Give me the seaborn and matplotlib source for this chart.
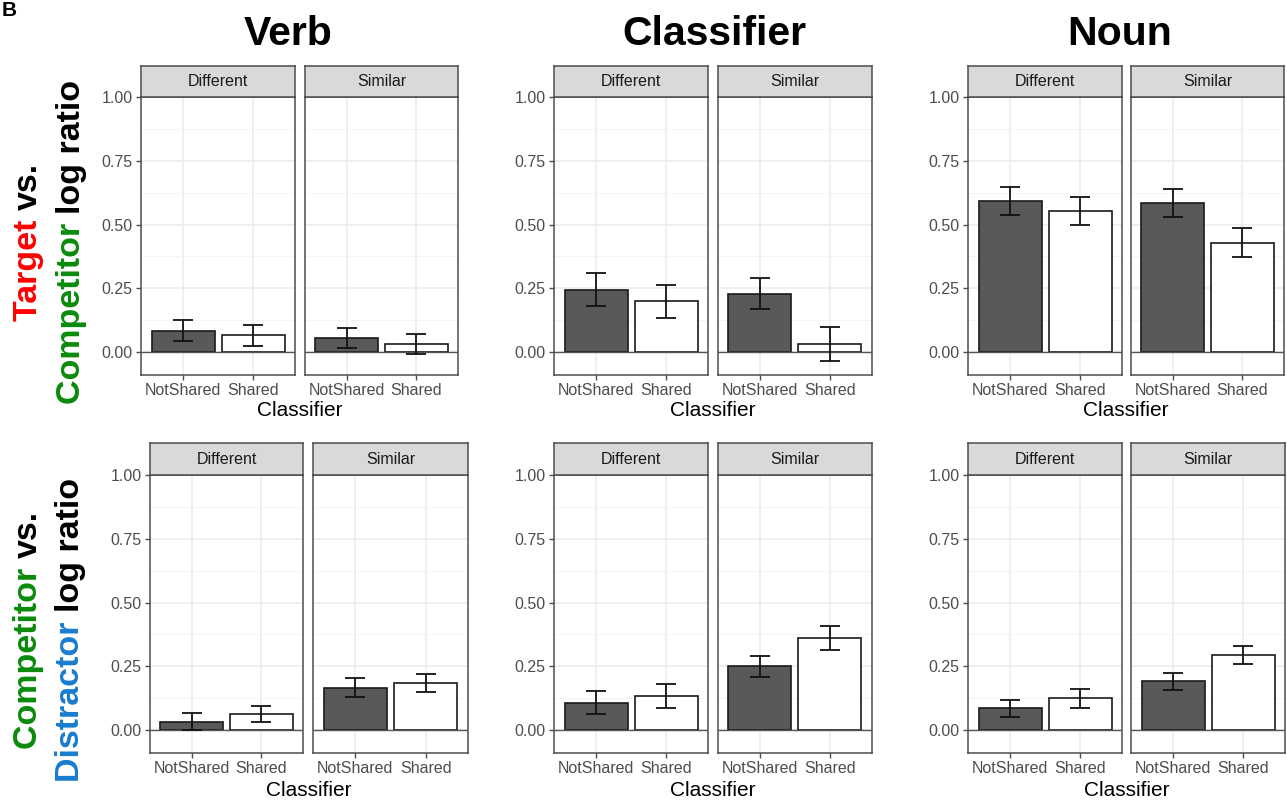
import matplotlib
matplotlib.use("Agg")
import numpy as np
import pandas as pd
import matplotlib.pyplot as plt
import seaborn as sns

# ---- data ----
regions = ["Verb", "Classifier", "Noun"]
similarity = ["Different", "Similar"]
classifier_levels = ["NotShared", "Shared"]

# Target vs. Competitor log ratio, order: region > similarity > classifier
tc_mean = [0.083, 0.066, 0.055, 0.032,
           0.245, 0.199, 0.228, 0.031,
           0.592, 0.554, 0.585, 0.428]
tc_se = [0.041, 0.041, 0.039, 0.038,
         0.064, 0.064, 0.061, 0.066,
         0.056, 0.054, 0.056, 0.057]

# Competitor vs. Distractor log ratio
cd_mean = [0.033, 0.064, 0.166, 0.184,
           0.107, 0.134, 0.250, 0.360,
           0.085, 0.124, 0.191, 0.293]
cd_se = [0.033, 0.031, 0.037, 0.034,
         0.045, 0.046, 0.042, 0.046,
         0.034, 0.036, 0.034, 0.036]

measures = ["TC", "CD"]

rows = []
for m, means, ses in zip(measures, [tc_mean, cd_mean], [tc_se, cd_se]):
    i = 0
    for r in regions:
        for s in similarity:
            for c in classifier_levels:
                rows.append({"measure": m, "region": r, "similarity": s,
                             "classifier": c, "mean": means[i], "se": ses[i]})
                i += 1
df = pd.DataFrame(rows)

# ---- style ----
sns.set_style("white")
plt.rcParams["font.family"] = ["Liberation Sans", "DejaVu Sans"]
plt.rcParams["text.color"] = "black"

W, H = 1287, 802
fig = plt.figure(figsize=(W / 100, H / 100), dpi=100)


def add_px_axes(x0, y0, x1, y1):
    return fig.add_axes([x0 / W, 1 - y1 / H, (x1 - x0) / W, (y1 - y0) / H])


# panel layout in pixels
panel_x = {
    ("TC", "Verb"): [(141, 295), (305, 458)],
    ("TC", "Classifier"): [(554, 708), (718, 872)],
    ("TC", "Noun"): [(968, 1122), (1131, 1284)],
    ("CD", "Verb"): [(150, 303), (313, 468)],
    ("CD", "Classifier"): [(554, 708), (718, 872)],
    ("CD", "Noun"): [(968, 1122), (1131, 1285)],
}
row_y = {"TC": (66, 97, 375), "CD": (443, 475, 753)}
xlabel_y = {"TC": 411, "CD": 790}

border = "#4d4d4d"
pal = {"NotShared": "#595959", "Shared": "white"}

for m in measures:
    strip_top, panel_top, panel_bot = row_y[m]
    for r in regions:
        for k, s in enumerate(similarity):
            x0, x1 = panel_x[(m, r)][k]
            ax = add_px_axes(x0, panel_top, x1, panel_bot)
            sub = df[(df.measure == m) & (df.region == r) & (df.similarity == s)]
            sns.barplot(data=sub, x="classifier", y="mean", order=classifier_levels,
                        hue="classifier", hue_order=classifier_levels, palette=pal,
                        edgecolor="#1a1a1a", linewidth=1.2, width=0.9,
                        errorbar=None, legend=False, ax=ax, zorder=2)
            ax.errorbar(x=np.arange(len(sub)), y=sub["mean"], yerr=sub["se"],
                        fmt="none", ecolor="#111111", elinewidth=1.3,
                        capsize=7, capthick=1.3, zorder=4)
            ax.axhline(0, color="#555555", lw=1.0, zorder=3)

            ax.set_xlim(-0.6, 1.6)
            ax.set_ylim(-0.09, 1.0)
            ax.set_yticks([0, 0.25, 0.5, 0.75, 1.0])
            ax.set_yticks([0.125, 0.375, 0.625, 0.875], minor=True)
            ax.set_yticklabels(["0.00", "0.25", "0.50", "0.75", "1.00"])
            ax.grid(which="major", color="#ebebeb", lw=1.1)
            ax.grid(which="minor", axis="y", color="#f4f4f4", lw=0.7)
            ax.set_axisbelow(True)
            ax.set_xlabel("")
            ax.set_ylabel("")
            ax.tick_params(axis="both", which="major", length=3.5, width=1,
                           color=border, labelsize=11.5, labelcolor="#4d4d4d", pad=2.5)
            ax.tick_params(which="minor", length=0)
            ax.tick_params(axis="x", bottom=True)
            if k == 1:
                ax.tick_params(axis="y", left=False, labelleft=False)
            else:
                ax.tick_params(axis="y", left=True)
            for sp in ax.spines.values():
                sp.set_color(border)
                sp.set_linewidth(1.1)

            # facet strip
            st = add_px_axes(x0, strip_top, x1, panel_top)
            st.set_facecolor("#d9d9d9")
            st.set_xticks([])
            st.set_yticks([])
            for sp in st.spines.values():
                sp.set_color(border)
                sp.set_linewidth(1.1)
            st.text(0.5, 0.5, s, ha="center", va="center", fontsize=11.5,
                    color="#1a1a1a", transform=st.transAxes)

        xa = panel_x[(m, r)]
        fig.text((xa[0][0] + xa[1][1]) / 2 / W, 1 - xlabel_y[m] / H, "Classifier",
                 ha="center", va="center", fontsize=15, color="black")

# column titles
title_x = {"Verb": 288, "Classifier": 714, "Noun": 1120}
for r in regions:
    fig.text(title_x[r] / W, 1 - 45 / H, r, ha="center", va="baseline",
             fontsize=29.5, fontweight="bold", color="black")

# panel letter
fig.text(2 / W, 1 - 1 / H, "B", ha="left", va="top", fontsize=15,
         fontweight="bold", color="black")

# multi-coloured rotated y labels
renderer = fig.canvas.get_renderer()


def text_width(s, size):
    t = fig.text(0, 0, s, fontsize=size, fontweight="bold")
    w = t.get_window_extent(renderer).width
    t.remove()
    return w


def colored_vlabel(pieces, x_px, center_px, size=24.5):
    full = "".join(p for p, _ in pieces)
    wfull = text_width(full, size)
    start = (H - center_px) - wfull / 2
    for i, (p, col) in enumerate(pieces):
        suffix = "".join(q for q, _ in pieces[i:])
        off = wfull - text_width(suffix, size)
        fig.text(x_px / W, (start + off) / H, p, rotation=90, rotation_mode="anchor",
                 ha="left", va="baseline", fontsize=size, fontweight="bold", color=col)


red, green, blue = "#ff0000", "#0a8a0a", "#1a7cd0"
colored_vlabel([("Target ", red), ("vs.", "black")], 37, 242)
colored_vlabel([("Competitor ", green), ("log ratio", "black")], 80, 242)
colored_vlabel([("Competitor ", green), ("vs.", "black")], 37, 630)
colored_vlabel([("Distractor ", blue), ("log ratio", "black")], 79, 630)

fig.savefig("out.png", dpi=100)
